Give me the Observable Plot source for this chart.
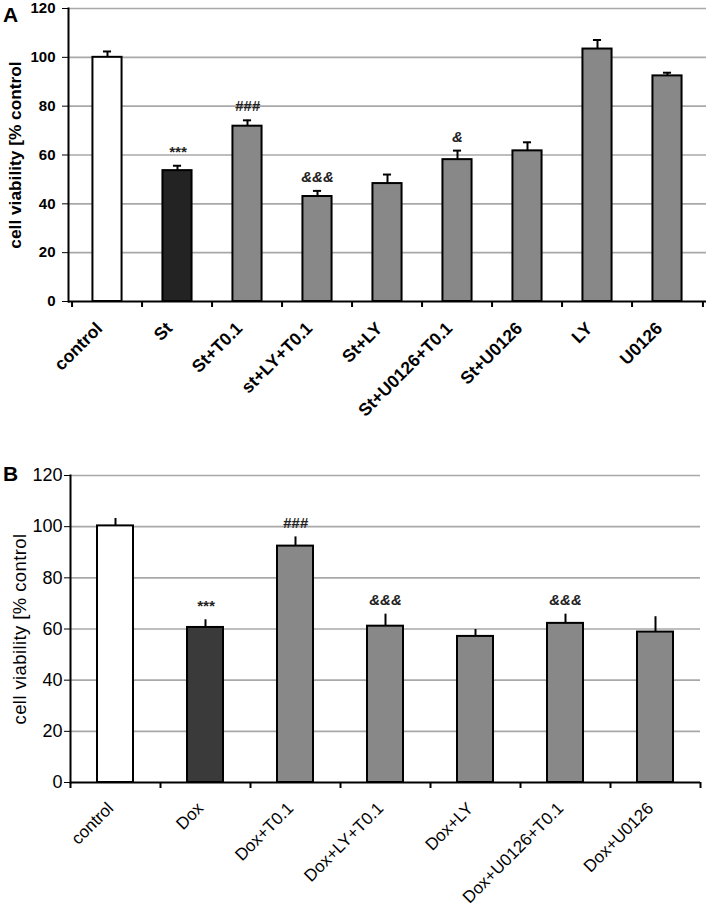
<!DOCTYPE html>
<html><head><meta charset="utf-8">
<script src="https://cdn.jsdelivr.net/npm/d3@7"></script>
<script src="https://cdn.jsdelivr.net/npm/@observablehq/plot@0.6"></script>
<style>
body{margin:0;background:#fff;}
#wrap{position:relative;width:708px;height:920px;font-family:"Liberation Sans",Arial,sans-serif;}
.panel{position:absolute;left:3px;font-weight:bold;font-size:21px;line-height:1;}
svg{display:block;}
#a g[aria-label="y-axis tick label"] text{font-size:15px;font-weight:bold;}
#a g[aria-label="y-axis label"] text{font-size:17.3px;font-weight:bold;}
#a g[aria-label="x-axis tick label"] text{font-size:17.5px;font-weight:bold;}
#b g[aria-label="y-axis tick label"] text{font-size:18px;}
#b g[aria-label="y-axis label"] text{font-size:18.5px;letter-spacing:0.4px;}
#b g[aria-label="x-axis tick label"] text{font-size:17px;}
</style></head><body>
<div id="wrap"><div id="a"></div><div id="b"></div>
<div class="panel" style="top:4px">A</div><div class="panel" style="top:463px">B</div></div>
<script>
// Panel A data
const catsA = ["control","St","St+T0.1","st+LY+T0.1","St+LY","St+U0126+T0.1","St+U0126","LY","U0126"];
const valsA = [100, 53.6, 71.8, 43.0, 48.3, 58.1, 61.7, 103.4, 92.4];
const errsA = [2.4, 2.0, 2.4, 2.3, 3.7, 3.7, 3.5, 3.7, 1.3];
const sigsA = ["", "***", "###", "&&&", "", "&", "", "", ""];
const groupsA = ["control","stress","treated","treated","treated","treated","treated","treated","treated"];
// Panel B data
const catsB = ["control","Dox","Dox+T0.1","Dox+LY+T0.1","Dox+LY","Dox+U0126+T0.1","Dox+U0126"];
const valsB = [100.3, 60.6, 92.4, 61.1, 57.1, 62.2, 58.8];
const errsB = [2.9, 3.0, 3.6, 4.7, 2.7, 3.6, 6.0];
const sigsB = ["", "***", "###", "&&&", "", "&&&", ""];
const groupsB = ["control","stress","treated","treated","treated","treated","treated"];
const yTicks = [0,20,40,60,80,100,120];
const yLabel = "cell viability [% control";

function panel(o) {
  const data = o.cats.map((c,i)=>({cat:c, v:o.vals[i], e:o.errs[i], s:o.sigs[i], g:o.groups[i]}));
  const step = (708 - o.marginLeft - o.marginRight) / o.cats.length;
  const inset = (step - o.barWidth) / 2;
  const capInset = (step - 9) / 2;
  const last = [o.cats[o.cats.length-1]];
  const marks = [
    Plot.gridY(yTicks.slice(1), {stroke:"#a8a8a8", strokeOpacity:1, strokeWidth:1.6}),
    Plot.barY(data, {x:"cat", y:"v", fill:"g", stroke:"black", strokeWidth:2, insetLeft:inset, insetRight:inset}),
    Plot.ruleX(data, {x:"cat", y1:"v", y2:d=>d.v+d.e, stroke:"black", strokeWidth:2}),
  ];
  if (o.caps) marks.push(Plot.tickY(data, {x:"cat", y:d=>d.v+d.e, stroke:"black", strokeWidth:2, insetLeft:capInset, insetRight:capInset}));
  marks.push(
    Plot.text(data, {x:"cat", y:d=>d.v+d.e, text:"s", dy:-9, lineAnchor:"bottom", fontSize:15, fontWeight:"bold", fontStyle:"italic", fill:"#222"}),
    Plot.ruleX(o.cats, {x:d=>d, y1:0, y2:0, dx:-step/2, insetBottom:-6, stroke:"black", strokeWidth:2}),
    Plot.ruleX(last, {x:d=>d, y1:0, y2:0, dx:step/2, insetBottom:-6, stroke:"black", strokeWidth:2}),
    Plot.ruleY([0], {stroke:"black", strokeWidth:2}),
    Plot.frame({anchor:"left", stroke:"black", strokeWidth:2}),
    Plot.axisY({ticks:yTicks, tickSize:6, tickPadding:o.tickPad,
      label:yLabel, labelAnchor:"center", labelArrow:"none", labelOffset:o.labelOffset}),
    Plot.axisX({tickSize:0, tickRotate:-45, tickPadding:o.xpad, dx:o.xdx, label:null})
  );
  return Plot.plot({
    width:708, height:o.height, marginTop:o.marginTop, marginBottom:o.marginBottom,
    marginLeft:o.marginLeft, marginRight:o.marginRight,
    style:{fontFamily:'"Liberation Sans", Arial, sans-serif', color:"black", background:"white", overflow:"visible"},
    x:{domain:o.cats, padding:0},
    y:{domain:[0,120]},
    color:{type:"ordinal", domain:["control","stress","treated"], range:["#ffffff", o.dark, "#888888"]},
    marks
  });
}

document.getElementById("a").appendChild(panel({
  cats:catsA, vals:valsA, errs:errsA, sigs:sigsA, groups:groupsA,
  height:463, marginTop:8, marginBottom:162, marginLeft:68, marginRight:2,
  barWidth:30, caps:true, tickPad:7, labelOffset:60,
  xpad:24, xdx:-8, dark:"#232323"
}));
document.getElementById("b").appendChild(panel({
  cats:catsB, vals:valsB, errs:errsB, sigs:sigsB, groups:groupsB,
  height:457, marginTop:12, marginBottom:138, marginLeft:70, marginRight:8,
  barWidth:36, caps:false, tickPad:2, labelOffset:58,
  xpad:23, xdx:-5, dark:"#3a3a3a"
}));
</script></body></html>
